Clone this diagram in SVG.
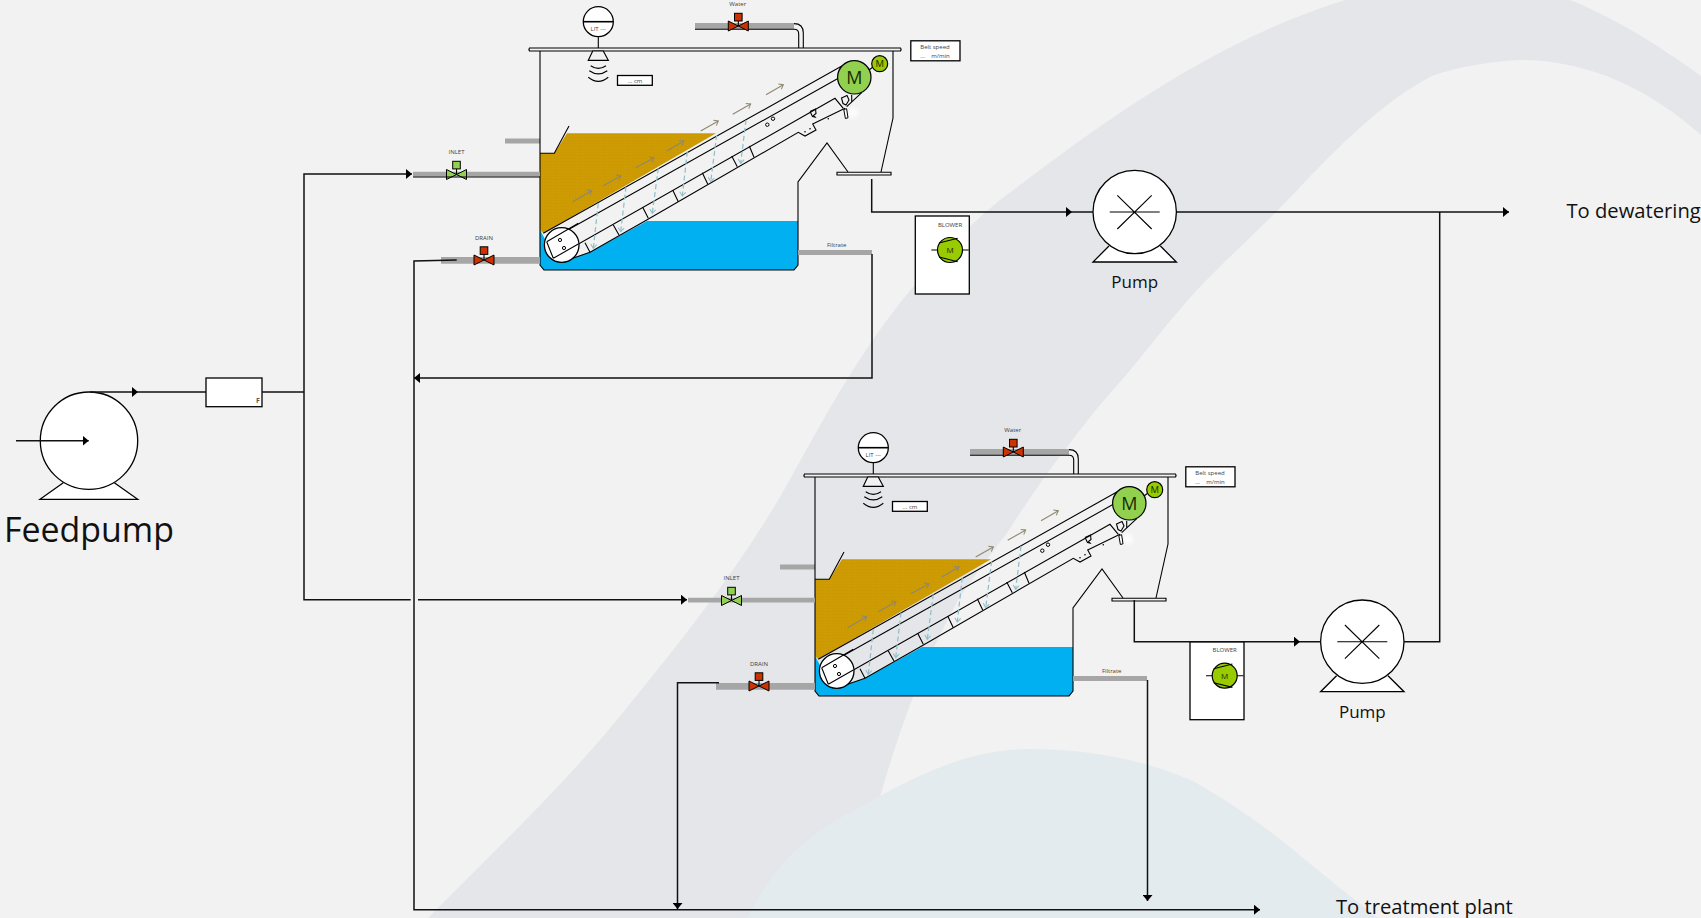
<svg xmlns="http://www.w3.org/2000/svg" width="1701" height="918" viewBox="0 0 1701 918">
<style>
.ln{fill:none;stroke:#000;stroke-width:1.1}
.body{fill:#fff;stroke:#000;stroke-width:1.3}
.conn{fill:none;stroke:#111;stroke-width:1.5}
.pipe{fill:#a6a6a6}
.sm{font-family:"Open Sans","Noto Sans",sans-serif;font-size:6px;fill:#404040;text-anchor:middle}
.lab{font-family:"Open Sans","Noto Sans",sans-serif;fill:#111}
.mid{text-anchor:middle}
.mot{font-family:"Open Sans","Noto Sans",sans-serif;fill:#1a2a00;text-anchor:middle}
.ba{fill:none;stroke:#8f8870;stroke-width:1.1;marker-end:url(#openB)}
.da{fill:none;stroke:#8fbdc9;stroke-width:1.2;stroke-dasharray:5 3;marker-end:url(#openD)}
.red{fill:#cc3300;stroke:#000;stroke-width:1}
.grn{fill:#92d050;stroke:#000;stroke-width:1}
</style>
<defs>
<marker id="arr" markerUnits="userSpaceOnUse" markerWidth="6" markerHeight="10" refX="6" refY="5" orient="auto"><path d="M0,0L6,5L0,10z" fill="#000"/></marker>
<marker id="openB" markerUnits="userSpaceOnUse" markerWidth="7" markerHeight="8" refX="5" refY="4" orient="auto"><path d="M1,1L5,4L1,7" fill="none" stroke="#8f8870"/></marker>
<marker id="openD" markerUnits="userSpaceOnUse" markerWidth="7" markerHeight="8" refX="5" refY="4" orient="auto"><path d="M1,1L5,4L1,7" fill="none" stroke="#8fbdc9"/></marker>
<pattern id="sludge" width="3" height="3" patternUnits="userSpaceOnUse"><rect width="3" height="3" fill="#cc9900"/><circle cx="1" cy="1" r=".6" fill="#d3a310"/></pattern>
<radialGradient id="blob"><stop offset="0" stop-color="#fff"/><stop offset="1" stop-color="#fff" stop-opacity="0"/></radialGradient>
<g id="valve-shape"><path class="ln" d="M0,0V-6"/></g>
<g id="thickener">
<path class="pipe" d="M505,138.5H540V143.5H505z"/>
<path fill="#00b0f0" d="M540,230L546,241L561.7,262L590,252.3L647,221H798V265L794,270H544L540,265z"/>
<path fill="url(#sludge)" d="M540,153.3H554.3L567,133.3H716L543.3,233.3L540,230z"/>
<path class="ln" stroke-width="1.3" d="M540,51V153.3H554.3L569,126M540,153.3V265L544,270H794L798,265V182L827,143L848,172M881,172L893,118V51"/>
<path class="ln" d="M543.3,233.3L846.7,63.3M546.7,241.7L838.3,78.3M553.3,258.3L835,98.3L843.3,108.3"/>
<path class="ln" d="M561.7,262L590,252.3L646.7,220L798.3,132.3L805,136L816,130L812.7,124L845,108.3"/>
<path class="ln" d="M585,242.7L590,252.3M613.3,225L619,235M642.7,207.3L648.3,218.3M672.7,190L678.3,201.7M702.3,172.7L707.7,184M731.7,156L737.3,166.7M749.3,146L754,157.3"/>
<circle cx="561.7" cy="245" r="17.3" class="body"/>
<path class="ln" d="M546.7,241.7L578.3,223.3M553.3,258.3L578.3,244M546.7,241.7L553.3,258.3"/>
<g fill="#fff" stroke="#000"><circle cx="560" cy="240" r="1.6"/><circle cx="564" cy="248" r="1.6"/><circle cx="767.3" cy="124.7" r="1.7"/><circle cx="773" cy="118.7" r="1.7"/></g>
<g><circle cx="805" cy="131.7" r=".8"/><circle cx="810" cy="128.7" r=".8"/><circle cx="828.3" cy="118.7" r=".8"/></g>
<path class="ln" d="M810,111.5L815.5,109L816,113.5L813.5,115.5L815,117L812.5,116.5L810,111.5"/>
<path class="ln" d="M841.5,98L847,95.5L849,100L846,105L843,103.5zM846.7,106.7L861.7,92.7M851.7,95V101.7"/>
<circle cx="853" cy="113" r="8" fill="url(#blob)"/>
<path fill="#fff" stroke="#000" d="M843.8,109.5L846.6,108.7L848,117.8L845.4,118.5z"/>
<path class="ba" d="M572.7,201.7L591.7,190.7"/><path class="ba" d="M603.3,185.7L621,175.7"/><path class="ba" d="M635.7,167.7L654,157.7"/><path class="ba" d="M666.7,151L684,141"/><path class="ba" d="M700.7,131L718.3,121"/><path class="ba" d="M732.7,114.3L750.7,104"/><path class="ba" d="M766,94.7L783.3,84.7"/>
<path class="da" d="M598.3,203.3L593.3,248.3"/><path class="da" d="M626,186.7L620.7,231.7"/><path class="da" d="M658.3,168.3L652.3,213.3"/><path class="da" d="M687.3,151.7L682.3,196"/><path class="da" d="M716.7,135L710.7,181.7"/><path class="da" d="M746,120L740.7,163.3"/>
<circle cx="854.3" cy="77.3" r="16.7" fill="#92d050" stroke="#000" stroke-width="1.2"/>
<path class="ln" d="M869,70L873,67"/>
<circle cx="879.7" cy="63.7" r="8" fill="#99cc00" stroke="#000" stroke-width="1.2"/>
<path fill="#f2f2f2" stroke="#000" stroke-width="1.2" d="M529.5,48H900.5Q901.5,49.5 900.5,51H529.5Q528.5,49.5 529.5,48z"/>
<path fill="#f2f2f2" stroke="#000" stroke-width="1.1" d="M837,172.3H891V175H837z"/>
<path class="pipe" d="M413,171.7H540V176.5H413z"/>
<path class="pipe" d="M441,257H540V263.7H441z"/>
<path class="pipe" d="M798,250H872V255H798z"/>
<path class="pipe" d="M695,23H794V29H695z"/>
<path class="ln" d="M695,29.3H794Q798.7,29.3 798.7,34V48M794,23.6Q803.3,23.6 803.3,33V48"/>
<g transform="translate(456.5,174.5)"><use href="#valve-shape"/><path class="grn" d="M-10,-5L0,0L-10,5zM10,-5L0,0L10,5z"/><rect class="grn" x="-3.8" y="-13.2" width="7.6" height="7.6"/></g>
<g transform="translate(484,260)"><use href="#valve-shape"/><path class="red" d="M-10,-5L0,0L-10,5zM10,-5L0,0L10,5z"/><rect class="red" x="-3.8" y="-13.2" width="7.6" height="7.6"/></g>
<g transform="translate(738.3,26)"><use href="#valve-shape"/><path class="red" d="M-10,-5L0,0L-10,5zM10,-5L0,0L10,5z"/><rect class="red" x="-3.8" y="-12.7" width="7.6" height="7.7"/></g>
<circle cx="598.3" cy="21.7" r="15" class="body"/>
<path d="M583.3,21.7H613.3" stroke="#000" stroke-width="1.6"/>
<path class="ln" d="M598.3,36.7V48"/>
<path fill="#f2f2f2" stroke="#000" stroke-width="1.2" d="M592.7,51H603.3L608.3,60.3H588.3z"/>
<path class="ln" d="M590.7,65.7Q598.3,71 606,65.7M589.3,70.7Q598.3,77 607.3,70.7M588.3,77.3Q598.3,85.5 608.3,77.3"/>
<rect x="617.5" y="75.5" width="34.8" height="9.8" class="body"/>
<rect x="910.8" y="40.8" width="49.2" height="20" class="body"/>
</g>
<g id="pump-shape">
<path class="body" d="M-25.7,34L-41.7,50H41.7L25.7,34"/>
<circle r="41.7" class="body"/>
<path class="ln" d="M-25,0H25M-17.4,-16.7L17,17M17,-16.7L-17.4,17"/>
</g>
<g id="blower-shape">
<rect x="-34.7" y="-34" width="54" height="78" class="body"/>
<path class="ln" d="M-18.7,0H-12M12,0H18.7"/>
<circle r="12.5" fill="#99cc00" stroke="#000" stroke-width="1.2"/>
<path class="ln" d="M-11,-7L7.7,-11.7M-11,7L7.7,11.7"/>
</g>
</defs>
<rect width="1701" height="918" fill="#f2f2f2"/>
<path fill="#e4e6ea" d="M428,918C500,845 570,780 633,700C690,630 740,565 780,497C830,410 880,300 1000,200C1080,140 1200,45 1345,0H1570C1620,20 1665,50 1701,76V135C1650,90 1590,60 1519,60C1490,62 1460,66 1432,76C1385,100 1340,145 1300,187C1265,225 1230,255 1197,290C1165,325 1140,360 1113,390C1095,410 1080,430 1067,447C1045,475 1025,505 1007,533C990,555 975,575 960,597C930,650 905,710 880,797C860,840 840,880 820,918z"/>
<path fill="#e4ebef" d="M747,918C760,895 772,875 786,860C810,835 835,820 868,803C925,770 975,749 1030,749C1090,749 1145,760 1193,781C1235,805 1270,830 1302,857C1330,880 1355,900 1378,918z"/>
<g id="feedpump">
<path class="body" d="M63.3,482.7L40,499.3H137.7L114.3,482.7"/>
<circle cx="89" cy="440.7" r="48.7" class="body"/>
<text class="lab mid" x="89" y="542" font-size="33.9">Feedpump</text>
</g>
<g id="flowmeter">
<rect x="206" y="378" width="56" height="28.7" class="body"/>
<text class="sm" x="258" y="403" font-weight="bold" style="font-size:7px;fill:#595959">F</text>
</g>
<g id="unit1">
<use href="#thickener"/>
<path class="ln" d="M413,177H540"/>
<text class="mot" x="854.3" y="83.6" font-size="18">M</text>
<text class="mot" x="879.7" y="67" font-size="9.5">M</text>
<text class="sm" x="456.5" y="154">INLET</text>
<text class="sm" x="484" y="240">DRAIN</text>
<text class="sm" x="737.7" y="6">Water</text>
<text class="sm" x="836.7" y="247">Filtrate</text>
<text class="sm" x="598.3" y="31">LIT ---</text>
<text class="sm" x="635" y="82.5">... cm</text>
<text class="sm" x="935" y="49">Belt speed</text>
<text class="sm" x="922.5" y="58">...<tspan x="940.5">m/min</tspan></text>
</g>
<g id="unit2" transform="translate(275,426)">
<use href="#thickener"/>
<text class="mot" x="854.3" y="83.6" font-size="18">M</text>
<text class="mot" x="879.7" y="67" font-size="9.5">M</text>
<text class="sm" x="456.5" y="154">INLET</text>
<text class="sm" x="484" y="240">DRAIN</text>
<text class="sm" x="737.7" y="6">Water</text>
<text class="sm" x="836.7" y="247">Filtrate</text>
<text class="sm" x="598.3" y="31">LIT ---</text>
<text class="sm" x="635" y="82.5">... cm</text>
<text class="sm" x="935" y="49">Belt speed</text>
<text class="sm" x="922.5" y="58">...<tspan x="940.5">m/min</tspan></text>
</g>
<g id="pump1" transform="translate(1134.7,212)"><use href="#pump-shape"/><text class="lab mid" x="0" y="76" font-size="17">Pump</text></g>
<g id="pump2" transform="translate(1362.3,641.7)"><use href="#pump-shape"/><text class="lab mid" x="0" y="76" font-size="17">Pump</text></g>
<g id="blower1" transform="translate(950,250)"><use href="#blower-shape"/><text class="mot" x="0" y="2.8" font-size="8">M</text><text class="sm" x="0" y="-23.5">BLOWER</text></g>
<g id="blower2" transform="translate(1224.7,675.7)"><use href="#blower-shape"/><text class="mot" x="0" y="2.8" font-size="8">M</text><text class="sm" x="0" y="-23.5">BLOWER</text></g>
<g id="outlets">
<text class="lab" x="1566.5" y="218" font-size="20.2">To dewatering</text>
<text class="lab" x="1336" y="914" font-size="20.2">To treatment plant</text>
</g>
<g id="connectors">
<path class="conn" marker-end="url(#arr)" d="M16,440.7H88.7"/>
<path class="conn" marker-end="url(#arr)" d="M90,392H138"/>
<path class="conn" d="M138,392H206M262,392H304"/>
<path class="conn" marker-end="url(#arr)" d="M304,392V174H412"/>
<path class="conn" d="M304,392V599.7H410.7"/>
<path class="conn" marker-end="url(#arr)" d="M418,599.7H687"/>
<path class="conn" marker-end="url(#arr)" d="M872,254V378H414"/>
<path class="conn" marker-end="url(#arr)" d="M456.7,260L414,261V909.7H1260"/>
<path class="conn" marker-end="url(#arr)" d="M871.7,179V212H1072"/>
<path class="conn" d="M1072,212H1093"/>
<path class="conn" marker-end="url(#arr)" d="M1176.7,212H1509"/>
<path class="conn" marker-end="url(#arr)" d="M1134.3,600V641.7H1300"/>
<path class="conn" d="M1300,641.7H1321M1404,641.7H1439.7V212"/>
<path class="conn" marker-end="url(#arr)" d="M1147.5,680V901"/>
<path class="conn" marker-end="url(#arr)" d="M719,682.7H677.5V909"/>
</g>
</svg>
